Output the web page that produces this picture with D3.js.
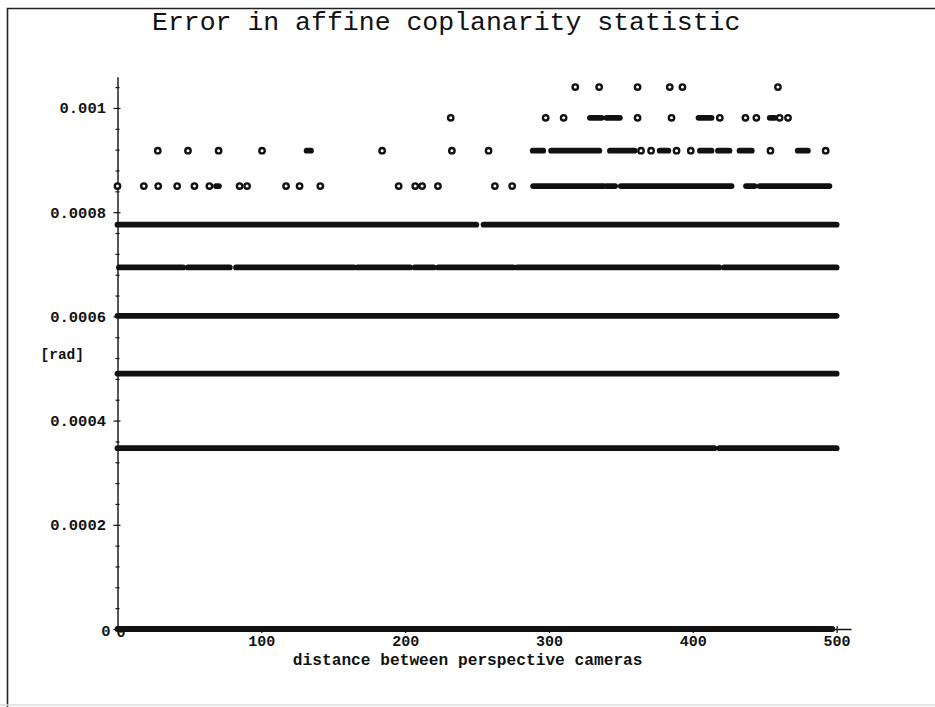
<!DOCTYPE html>
<html>
<head>
<meta charset="utf-8">
<script src="https://cdn.jsdelivr.net/npm/d3@7"></script>
<style>
  body { margin: 0; background: #fff; }
  svg text { font-family: "Liberation Mono", "Courier New", monospace; fill: #111; }
</style>
</head>
<body>
<div id="chart"></div>
<script>
// error levels found in the plot [rad]
const levels = [0, 0.000347, 0.00049, 0.000601, 0.000694, 0.000776, 0.00085, 0.000918, 0.000981, 0.00104];

// stretches of overlapping points, [from, to] in distance units, one list per level
const runs0 = [[0, 497]];
const runs1 = [[0, 415], [418.5, 500]];
const runs2 = [[0, 500]];
const runs3 = [[0, 500]];
const runs4 = [[1, 45.6], [48.9, 78.1], [82.4, 164.4], [167, 203.5], [206.7, 219.8], [223, 275.1], [277.8, 418.4], [421.7, 500]];
const runs5 = [[0, 249.5], [254.5, 500]];
const runs6 = [[68.5, 70.5], [289, 338], [340, 346], [350, 427], [437, 443], [446.5, 495]];
const runs7 = [[131.5, 134.5], [288.7, 296], [301.5, 335], [342.4, 359.5], [377, 383], [405, 413], [417.5, 425.5], [432.5, 441], [473, 480]];
const runs8 = [[328.5, 336.6], [340, 349.3], [404, 413], [453.5, 457]];
const runs9 = [];

// single points per level
const pts6 = [0, 18.3, 28.3, 41.5, 53.5, 63.9, 84.9, 90.1, 117.2, 126.6, 141, 195.5, 207, 211.8, 222.8, 262.4, 274.4];
const pts7 = [28, 49, 70.3, 100.5, 184, 232.5, 258, 364, 371, 388.7, 398.6, 454, 492.4];
const pts8 = [231.7, 297.7, 310.2, 361.6, 385.2, 418.8, 436.6, 444.2, 460.4, 466.2];
const pts9 = [318.3, 334.9, 361.6, 384, 392.8, 459.2];

const xTickValues = [0, 100, 200, 300, 400, 500];
const xTickLabels = ["0", "100", "200", "300", "400", "500"];
const yTickValues = [0, 0.0002, 0.0004, 0.0006, 0.0008, 0.001];
const yTickLabels = ["0", "0.0002", "0.0004", "0.0006", "0.0008", "0.001"];

const allRuns = [runs0, runs1, runs2, runs3, runs4, runs5, runs6, runs7, runs8, runs9];
const allPts = [[], [], [], [], [], [], pts6, pts7, pts8, pts9];

const runData = [];
const ptData = [];
levels.forEach((lv, i) => {
  allRuns[i].forEach(r => runData.push({level: lv, from: r[0], to: r[1]}));
  allPts[i].forEach(p => ptData.push({level: lv, x: p}));
});

const W = 935, H = 707;
const svg = d3.select("#chart").append("svg")
  .attr("width", W)
  .attr("height", H);

// page frame
svg.append("path")
  .attr("d", "M7.5,707 V8.5 H935")
  .attr("fill", "none")
  .attr("stroke", "#222")
  .attr("stroke-width", 1.6);
svg.append("line")
  .attr("x1", 0).attr("x2", W).attr("y1", 705).attr("y2", 705)
  .attr("stroke", "#ddd").attr("stroke-width", 1.5);

const x = d3.scaleLinear().domain([0, 510]).range([117.5, 851]);
const y = d3.scaleLinear().domain([0, 0.00106]).range([629, 76.7]);

const minorX = d3.range(0, 501, 20).filter(v => v % 100 !== 0);
const minorY = d3.range(0, 27).map(i => i * 0.00004).filter(v => Math.abs(v / 0.0002 - Math.round(v / 0.0002)) > 1e-6);

// y axis
const yAxis = svg.append("g")
  .attr("transform", `translate(${x(0)},0)`)
  .call(d3.axisLeft(y).tickValues(yTickValues).tickFormat((d, i) => yTickLabels[i]).tickSize(4).tickPadding(7.5).tickSizeOuter(0));
yAxis.select(".domain").attr("stroke", "#111").attr("stroke-width", 1.4);
yAxis.selectAll(".tick line").attr("x1", 3).attr("stroke", "#111").attr("stroke-width", 1.2);
yAxis.selectAll(".tick text")
  .style("font-size", "15.5px")
  .style("font-weight", "bold")
  .attr("fill", "#111");
yAxis.selectAll(".tick text").filter(d => d === 0).attr("x", -7).attr("dy", "0.4em");

svg.append("g")
  .attr("transform", `translate(${x(0)},0)`)
  .call(d3.axisLeft(y).tickValues(minorY).tickFormat("").tickSize(2).tickSizeOuter(0))
  .call(g => g.select(".domain").remove())
  .selectAll(".tick line").attr("x1", 2).attr("stroke", "#111").attr("stroke-width", 1.2);

// x axis
const xAxis = svg.append("g")
  .attr("transform", `translate(0,${y(0)})`)
  .call(d3.axisBottom(x).tickValues(xTickValues).tickFormat((d, i) => xTickLabels[i]).tickSize(4).tickSizeOuter(0));
xAxis.select(".domain").attr("stroke", "#111").attr("stroke-width", 1.4);
xAxis.selectAll(".tick line").attr("y1", -3).attr("stroke", "#111").attr("stroke-width", 1.2);
xAxis.selectAll(".tick text")
  .attr("y", 17).attr("dy", 0)
  .style("font-size", "15px")
  .style("font-weight", "bold")
  .attr("fill", "#111");
xAxis.selectAll(".tick text").filter(d => d === 0).attr("y", 8).attr("x", 3);

svg.append("g")
  .attr("transform", `translate(0,${y(0)})`)
  .call(d3.axisBottom(x).tickValues(minorX).tickFormat("").tickSize(2).tickSizeOuter(0))
  .call(g => g.select(".domain").remove())
  .selectAll(".tick line").attr("y1", -2).attr("stroke", "#111").attr("stroke-width", 1.2);

// dense stretches of points
svg.append("g")
  .selectAll("line")
  .data(runData)
  .join("line")
  .attr("x1", d => x(d.from))
  .attr("x2", d => x(d.to))
  .attr("y1", d => y(d.level))
  .attr("y2", d => y(d.level))
  .attr("stroke", "#111")
  .attr("stroke-width", 5.8)
  .attr("stroke-linecap", "round");

// isolated points
svg.append("g")
  .selectAll("circle")
  .data(ptData)
  .join("circle")
  .attr("cx", d => x(d.x))
  .attr("cy", d => y(d.level))
  .attr("r", 2.7)
  .attr("fill", "#fff")
  .attr("stroke", "#111")
  .attr("stroke-width", 2.4);

// texts
svg.append("text")
  .attr("x", 152)
  .attr("y", 30)
  .style("font-size", "26.5px")
  .text("Error in affine coplanarity statistic");

svg.append("text")
  .attr("x", 40.5)
  .attr("y", 359)
  .style("font-size", "14.5px")
  .style("font-weight", "bold")
  .text("[rad]");

svg.append("text")
  .attr("x", 467.7)
  .attr("y", 665)
  .attr("text-anchor", "middle")
  .style("font-size", "16.2px")
  .style("font-weight", "bold")
  .text("distance between perspective cameras");
</script>
</body>
</html>
